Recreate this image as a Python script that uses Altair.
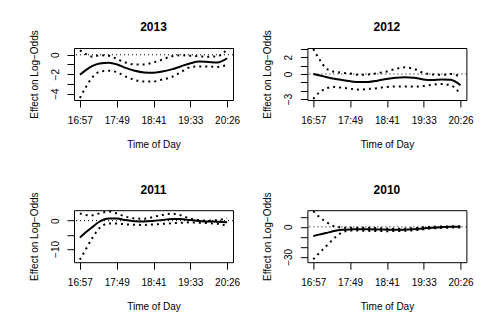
import altair as alt
import pandas as pd

# Time of day in minutes after midnight
times = [1017, 1025, 1035, 1045, 1058, 1070, 1082, 1095, 1108, 1121,
         1134, 1147, 1160, 1173, 1186, 1199, 1212, 1226]
tick_minutes = [1017, 1069.25, 1121.5, 1173.75, 1226]
tick_labels = ["16:57", "17:49", "18:41", "19:33", "20:26"]

years = ["2013", "2012", "2011", "2010"]

est_2013 = [-2.05, -1.6, -1.15, -0.9, -0.82, -1.0, -1.35, -1.65, -1.82, -1.85,
            -1.72, -1.5, -1.2, -0.9, -0.7, -0.74, -0.8, -0.36]
upper_2013 = [0.45, 0.1, -0.2, -0.05, -0.1, -0.45, -0.8, -1.0, -1.0, -0.8,
              -0.5, -0.15, -0.05, -0.1, -0.15, -0.2, -0.15, 0.55]
lower_2013 = [-4.45, -3.4, -2.3, -1.75, -1.65, -1.8, -2.25, -2.6, -2.75, -2.75,
              -2.55, -2.3, -1.8, -1.3, -1.2, -1.2, -1.25, -1.05]

est_2012 = [0.0, -0.15, -0.35, -0.55, -0.72, -0.88, -0.97, -0.95, -0.8, -0.6,
            -0.45, -0.38, -0.45, -0.65, -0.72, -0.65, -0.7, -1.35]
upper_2012 = [3.0, 1.85, 0.7, 0.3, 0.15, 0.05, -0.1, -0.05, 0.1, 0.3,
              0.6, 0.8, 0.6, 0.15, -0.05, -0.1, 0.0, -0.35]
lower_2012 = [-3.0, -2.25, -1.75, -1.55, -1.65, -1.78, -1.88, -1.8, -1.7, -1.55,
              -1.5, -1.5, -1.5, -1.45, -1.3, -1.2, -1.35, -2.4]

est_2011 = [-6.0, -4.2, -2.2, -0.3, 0.8, 0.75, 0.2, -0.2, -0.3, -0.1,
            0.25, 0.55, 0.55, 0.2, -0.1, -0.3, -0.35, -0.55]
upper_2011 = [2.6, 2.0, 1.9, 2.6, 3.2, 2.5, 1.4, 0.8, 0.7, 1.3,
              2.0, 2.5, 1.9, 0.8, 0.2, 0.0, 0.2, 0.8]
lower_2011 = [-13.8, -10.3, -6.0, -2.6, -1.0, -1.05, -1.3, -1.45, -1.5, -1.35,
              -1.15, -0.95, -0.75, -0.6, -0.7, -0.9, -1.1, -1.9]

est_2010 = [-9.3, -7.8, -6.2, -4.5, -3.0, -2.5, -2.3, -2.4, -2.6, -2.8,
            -2.9, -2.8, -2.3, -1.6, -0.9, -0.3, 0.1, 0.1]
upper_2010 = [15.6, 10.2, 5.0, 1.0, -0.7, -1.0, -1.0, -1.0, -1.2, -1.6,
              -2.0, -1.8, -1.2, -0.5, 0.0, 0.3, 0.5, 0.6]
lower_2010 = [-32.4, -26.5, -19.5, -12.5, -5.5, -3.6, -3.8, -4.0, -4.2, -4.3,
              -4.2, -4.0, -3.5, -2.5, -1.6, -1.0, -0.8, -0.7]

y_ticks = {
    "2013": ([0, -1, -2, -3, -4], [0, -2, -4]),
    "2012": ([-3, -2, -1, 0, 1, 2, 3], [2, 0, -3]),
    "2011": ([0, -5, -10], [0, -10]),
    "2010": ([10, 0, -10, -20, -30], [0, -30]),
}
y_domains = {
    "2013": [-4.66, 0.7],
    "2012": [-3.12, 3.12],
    "2011": [-14.7, 3.7],
    "2010": [-35.3, 16.6],
}
series = {
    "2013": (est_2013, upper_2013, lower_2013),
    "2012": (est_2012, upper_2012, lower_2012),
    "2011": (est_2011, upper_2011, lower_2011),
    "2010": (est_2010, upper_2010, lower_2010),
}

span = tick_minutes[-1] - tick_minutes[0]
x_domain = [tick_minutes[0] - 0.04 * span, tick_minutes[-1] + 0.04 * span]

W, H = 159, 52
FONT = "Liberation Sans"

x_label_expr = "{}[indexof({}, datum.value)]".format(
    "[" + ",".join("'%s'" % t for t in tick_labels) + "]",
    "[" + ",".join(str(v) for v in tick_minutes) + "]",
)


def panel(year):
    est, up, lo = series[year]
    n = len(times)
    df = pd.DataFrame({
        "time": times * 3,
        "value": list(est) + list(up) + list(lo),
        "series": ["est"] * n + ["upper"] * n + ["lower"] * n,
    })
    ticks, labeled = y_ticks[year]
    x = alt.X("time:Q",
              scale=alt.Scale(domain=x_domain, nice=False, zero=False),
              axis=alt.Axis(values=tick_minutes, labelExpr=x_label_expr,
                            title="Time of Day", domain=False, grid=False,
                            tickSize=7, labelPadding=16,
                            labelBaseline="alphabetic", labelFlush=False,
                            labelOverlap=False, labelBound=False,
                            titleX=W / 2, titleY=47, titleBaseline="alphabetic",
                            titleAlign="center"))
    y = alt.Y("value:Q",
              scale=alt.Scale(domain=y_domains[year], nice=False, zero=False),
              axis=alt.Axis(values=ticks,
                            labelExpr="indexof([%s], datum.value) >= 0 ? datum.label : ''"
                            % ",".join(str(v) for v in labeled),
                            title="Effect on Log\u2212Odds", domain=False, grid=False,
                            tickSize=7, labelPadding=8.5, labelAngle=270,
                            labelAlign="center", labelBaseline="alphabetic",
                            labelOverlap=False, labelBound=False, labelFlush=False,
                            titleAngle=270, titleX=-37, titleY=H / 2,
                            titleAlign="center", titleBaseline="alphabetic"))
    zero = alt.Chart(pd.DataFrame({"value": [0]})).mark_rule(
        color="black", strokeWidth=1, strokeDash=[1, 3]).encode(y=y)
    base = alt.Chart(df)
    bands = base.transform_filter("datum.series != 'est'").mark_line(
        color="black", strokeWidth=2, strokeDash=[2, 4], interpolate="monotone",
        clip=True).encode(x=x, y=y, detail="series:N")
    est_line = base.transform_filter("datum.series == 'est'").mark_line(
        color="black", strokeWidth=2, interpolate="monotone", clip=True).encode(x=x, y=y)
    return alt.layer(zero, bands, est_line).properties(
        width=W, height=H,
        title=alt.TitleParams(year, fontSize=12, fontWeight="bold", font=FONT,
                              offset=-13.7, frame="group", anchor="middle",
                              baseline="alphabetic", color="black"))


chart = alt.concat(
    *[panel(yr) for yr in years], columns=2,
    spacing={"row": 110.2, "column": 74.4}, bounds="flush",
).properties(
    padding={"left": 28, "top": 20, "right": 5, "bottom": 5},
    background="white",
).configure_view(
    stroke="black", strokeWidth=1
).configure_axis(
    labelFont=FONT, titleFont=FONT, labelFontSize=10, titleFontSize=10,
    titleFontWeight="normal", labelColor="black", titleColor="black",
    tickColor="black", tickWidth=1
)

chart.save("out.html", embed_options={"renderer": "svg", "actions": False})
